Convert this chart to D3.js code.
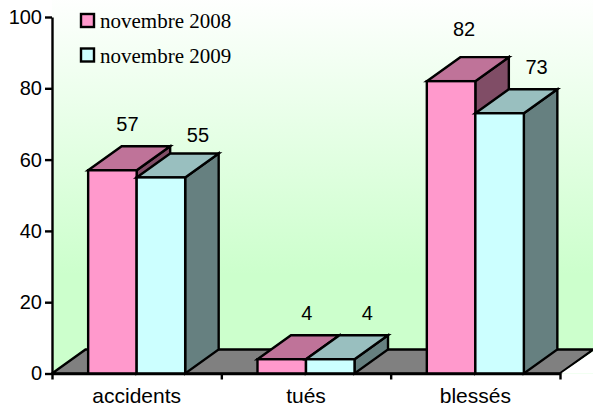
<!DOCTYPE html>
<html>
<head>
<meta charset="utf-8">
<script src="https://cdn.jsdelivr.net/npm/d3@7"></script>
<style>
  html, body { margin: 0; padding: 0; background: #fff; }
  svg { display: block; }
  .axis text { font-family: "Liberation Sans", Arial, sans-serif; font-size: 20px; fill: #000; }
  .axis.categories text { font-size: 21px; }
  .axis path, .axis line { stroke: #000; stroke-width: 2.4px; }
  .value-label { font-family: "Liberation Sans", Arial, sans-serif; font-size: 20px; fill: #000; text-anchor: middle; }
  .legend-label { font-family: "Liberation Serif", "Times New Roman", serif; font-size: 21px; fill: #000; }
</style>
</head>
<body>
<svg id="chart" width="593" height="410"></svg>
<script>
const categories = ['accidents', 'tués', 'blessés'];
const seriesNames = ['novembre 2008', 'novembre 2009'];
const values2008 = [57, 4, 82];
const values2009 = [55, 4, 73];
const yTicks = [0, 20, 40, 60, 80, 100];

// Hand-placed labels in the original, so they sit off the bars by these amounts
const labelShift2008 = [[15, -39], [25, -39], [13, -45]];
const labelShift2009 = [[37, -35], [37, -39], [37, -39]];

const colors = [
    {front: '#ff99cc', top: '#bf7399', side: '#804d66'},
    {front: '#ccffff', top: '#99bfbf', side: '#668080'}
];

const margin = {left: 52, bottom: 373.5, top: 17, right: 560};
const depth = {x: 33.5, y: 24};
const strokeWidth = 2.4;

const svg = d3.select('#chart');

const x = d3.scaleBand()
    .domain(categories)
    .range([margin.left, margin.right])
    .paddingInner(0.427)
    .paddingOuter(0.2135);

const xInner = d3.scaleBand()
    .domain(seriesNames)
    .range([0, x.bandwidth()]);

// Tick marks fall between the categories
const xEdges = d3.scaleLinear()
    .domain([0, categories.length])
    .range([margin.left, margin.right]);

const y = d3.scaleLinear()
    .domain([0, 100])
    .range([margin.bottom, margin.top]);

// Background wall
const defs = svg.append('defs');
const gradient = defs.append('linearGradient')
    .attr('id', 'wall')
    .attr('x1', 0).attr('y1', 0).attr('x2', 0).attr('y2', 1);
gradient.append('stop').attr('offset', '0%').attr('stop-color', '#ffffff');
gradient.append('stop').attr('offset', '74%').attr('stop-color', '#ccffcc');
gradient.append('stop').attr('offset', '100%').attr('stop-color', '#ccffcc');

svg.append('rect')
    .attr('x', margin.left)
    .attr('y', margin.top - depth.y)
    .attr('width', 593 - margin.left)
    .attr('height', y(0) - margin.top + depth.y)
    .attr('fill', 'url(#wall)');

// Floor
svg.append('path')
    .attr('d', d3.line()([
        [xEdges(0), y(0)],
        [xEdges(0) + depth.x, y(0) - depth.y],
        [xEdges(3) + depth.x, y(0) - depth.y],
        [xEdges(3), y(0)]
    ]) + 'Z')
    .attr('fill', '#808080')
    .attr('stroke', '#000')
    .attr('stroke-width', strokeWidth);

// White below the floor, right of the last tick
svg.append('path')
    .attr('d', d3.line()([
        [xEdges(3) + 1, y(0)],
        [xEdges(3) + depth.x + 1, y(0) - depth.y + 1],
        [593, y(0) - depth.y + 1],
        [593, y(0)]
    ]) + 'Z')
    .attr('fill', '#fff')
    .attr('stroke', 'none');

// Bars, one series after the other so the front one covers the side of the back one
const barData = [];
categories.forEach((c, i) => {
    [values2008, values2009].forEach((vals, s) => {
        barData.push({category: c, series: s, value: vals[i],
            shift: (s === 0 ? labelShift2008 : labelShift2009)[i]});
    });
});

const bars = svg.selectAll('.bar')
    .data(barData)
    .join('g')
    .attr('class', 'bar')
    .attr('stroke', '#000')
    .attr('stroke-width', strokeWidth)
    .attr('stroke-linejoin', 'miter');

const x0 = d => x(d.category) + xInner(seriesNames[d.series]);
const x1 = d => x0(d) + xInner.bandwidth();

bars.append('path')
    .attr('fill', d => colors[d.series].side)
    .attr('d', d => d3.line()([
        [x1(d), y(d.value)],
        [x1(d) + depth.x, y(d.value) - depth.y],
        [x1(d) + depth.x, y(0) - depth.y],
        [x1(d), y(0)]
    ]) + 'Z');

bars.append('path')
    .attr('fill', d => colors[d.series].top)
    .attr('d', d => d3.line()([
        [x0(d), y(d.value)],
        [x0(d) + depth.x, y(d.value) - depth.y],
        [x1(d) + depth.x, y(d.value) - depth.y],
        [x1(d), y(d.value)]
    ]) + 'Z');

bars.append('rect')
    .attr('fill', d => colors[d.series].front)
    .attr('x', x0)
    .attr('y', d => y(d.value))
    .attr('width', xInner.bandwidth())
    .attr('height', d => y(0) - y(d.value));

// Value labels
svg.selectAll('.value-label')
    .data(barData)
    .join('text')
    .attr('class', 'value-label')
    .attr('x', d => (x0(d) + x1(d)) / 2 + d.shift[0])
    .attr('y', d => y(d.value) + d.shift[1])
    .text(d => d.value);

// Axes
svg.append('g')
    .attr('class', 'axis')
    .attr('transform', `translate(${margin.left},0)`)
    .call(d3.axisLeft(y).tickValues(yTicks).tickSize(7).tickSizeOuter(0).tickPadding(3));

svg.append('g')
    .attr('class', 'axis')
    .attr('transform', `translate(0,${margin.bottom})`)
    .call(d3.axisBottom(xEdges).tickValues(d3.range(categories.length + 1)).tickSize(6).tickSizeOuter(0).tickFormat(''));

svg.append('g')
    .attr('class', 'axis categories')
    .attr('transform', `translate(0,${margin.bottom})`)
    .call(d3.axisBottom(x).tickSize(0).tickPadding(15))
    .call(g => g.select('.domain').remove());

// Legend
const legend = svg.selectAll('.legend-item')
    .data(seriesNames)
    .join('g')
    .attr('class', 'legend-item')
    .attr('transform', (d, i) => `translate(81,${14 + i * 34.5})`);

legend.append('rect')
    .attr('width', 13)
    .attr('height', 13)
    .attr('fill', (d, i) => colors[i].front)
    .attr('stroke', '#000')
    .attr('stroke-width', strokeWidth);

legend.append('text')
    .attr('class', 'legend-label')
    .attr('x', 19)
    .attr('y', 14)
    .text(d => d);
</script>
</body>
</html>
